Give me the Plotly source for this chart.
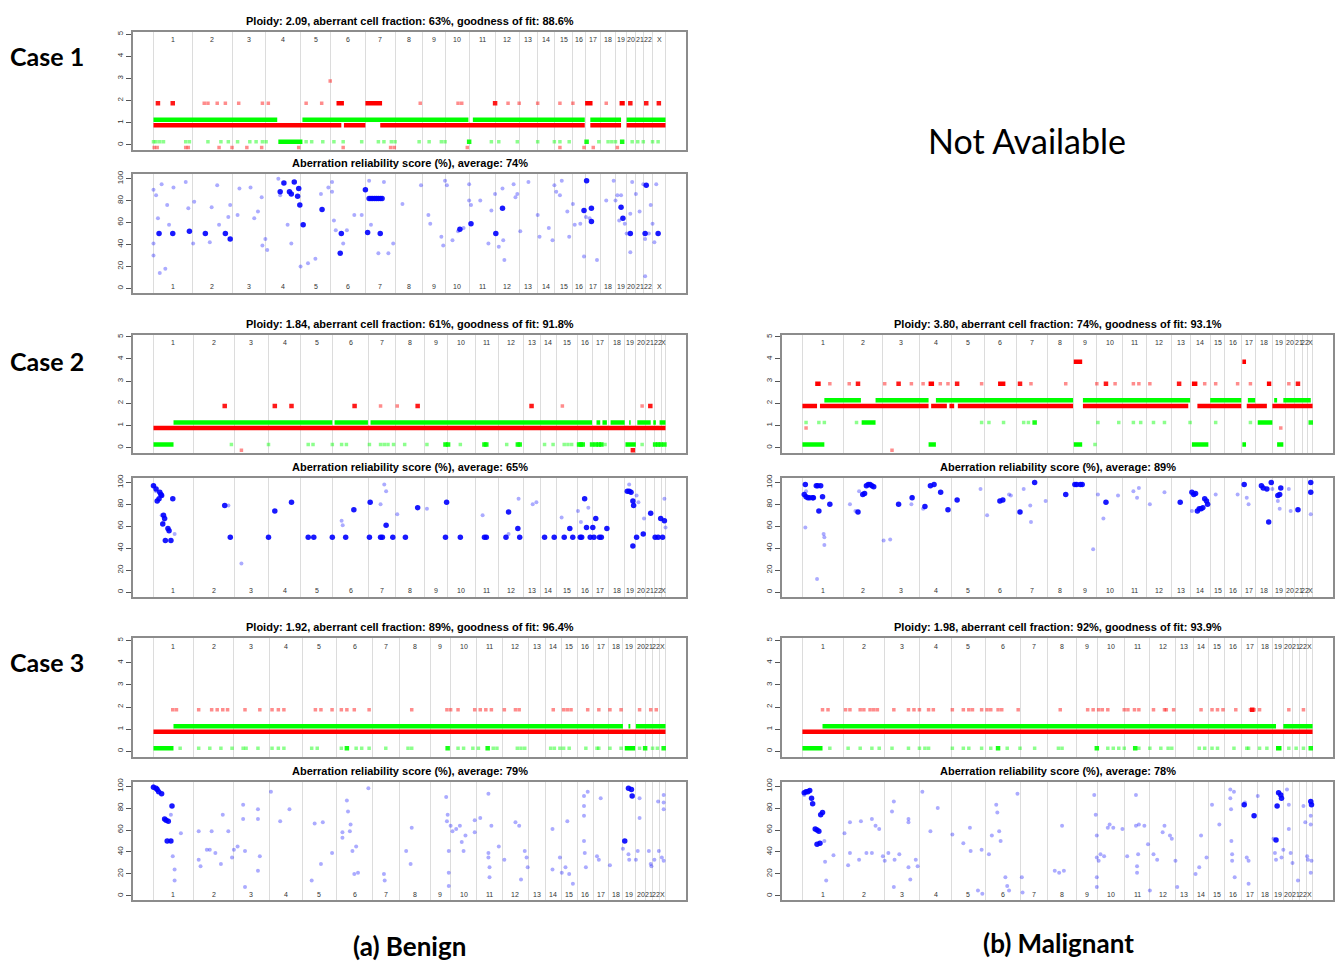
import plotly.graph_objects as go

W, H = 1335, 962
CHROMS = [str(i) for i in range(1, 23)] + ["X"]

# ---------------- chromosome start/end boundaries (bin coordinates) ----------------
B1 = [118, 222, 330, 420, 515, 597, 690, 770, 845, 905, 972, 1040, 1105, 1155, 1200, 1250, 1285, 1325, 1365, 1395, 1420, 1440, 1465, 1500]
B2B = [118, 225, 335, 428, 515, 600, 698, 770, 848, 910, 985, 1048, 1115, 1160, 1205, 1262, 1300, 1345, 1388, 1418, 1445, 1468, 1486, 1498]
B2M = [110, 222, 330, 430, 518, 608, 695, 780, 850, 915, 985, 1050, 1120, 1170, 1225, 1265, 1310, 1350, 1395, 1430, 1455, 1478, 1492, 1505]
B3B = [118, 225, 335, 430, 520, 612, 710, 782, 865, 920, 990, 1060, 1130, 1175, 1218, 1262, 1305, 1345, 1385, 1420, 1445, 1465, 1485, 1500]
B3M = [110, 222, 335, 430, 518, 610, 705, 780, 860, 918, 990, 1060, 1130, 1178, 1220, 1265, 1310, 1355, 1395, 1425, 1450, 1470, 1487, 1505]

# ---------------- titles ----------------
CN_TITLES = {
    "c1b": "Ploidy: 2.09, aberrant cell fraction: 63%, goodness of fit: 88.6%",
    "c2b": "Ploidy: 1.84, aberrant cell fraction: 61%, goodness of fit: 91.8%",
    "c2m": "Ploidy: 3.80, aberrant cell fraction: 74%, goodness of fit: 93.1%",
    "c3b": "Ploidy: 1.92, aberrant cell fraction: 89%, goodness of fit: 96.4%",
    "c3m": "Ploidy: 1.98, aberrant cell fraction: 92%, goodness of fit: 93.9%",
}
REL_AVG = {"c1b": 74, "c2b": 65, "c2m": 89, "c3b": 79, "c3m": 78}

# ================= CASE 1 (benign) =================
C1_RED_SEG = [(118, 625, 1), (632, 690, 1), (730, 1282, 1), (1297, 1380, 1), (1395, 1500, 1),
              (612, 632, 2), (690, 735, 2), (1283, 1303, 2), (1376, 1390, 2)]
C1_GREEN_SEG = [(118, 452, 1), (520, 968, 1), (980, 1282, 1), (1297, 1380, 1), (1395, 1500, 1), (455, 520, 0)]
C1_RED_FAINT = {2: [255, 265, 290, 312, 348, 412, 428, 530, 572, 838, 940, 950, 1075, 1105, 1155, 1215, 1250, 1340],
                3: [595],
                0: [120, 128, 205, 212, 295, 330, 370, 410, 510, 630, 758, 768, 965, 1215, 1280, 1305, 1370]}
C1_RED_STRONG = {2: [130, 170, 1040, 1405, 1448, 1482]}
C1_GREEN_FAINT = {0: [118, 125, 135, 145, 205, 215, 265, 300, 320, 345, 378, 395, 412, 422, 530, 545, 575, 605, 630,
                      680, 725, 740, 760, 770, 835, 862, 895, 905, 1030, 1050, 1100, 1155, 1200, 1215, 1240, 1320,
                      1345, 1355, 1365, 1410, 1425, 1440, 1465, 1480]}
C1_GREEN_STRONG = {0: [970, 1287, 1383]}
C1_REL_STRONG = [(133, 50), (170, 50), (215, 52), (258, 50), (312, 50), (325, 45), (460, 88), (470, 96), (485, 88),
                 (490, 86), (498, 97), (507, 84), (510, 91), (513, 76), (522, 58), (573, 72), (625, 50), (622, 32),
                 (690, 90), (696, 51), (700, 82), (705, 82), (710, 82), (715, 82), (720, 82), (725, 82), (730, 82),
                 (735, 82), (730, 50), (975, 59), (945, 54), (1042, 50), (1060, 73), (1287, 98), (1280, 71),
                 (1300, 73), (1300, 61), (1380, 74), (1385, 64), (1405, 50), (1445, 50), (1480, 50), (1448, 94)]
C1_REL_FAINT = [(118, 90), (118, 41), (118, 30), (125, 85), (130, 64), (135, 14), (140, 95), (150, 18), (155, 76),
                (160, 58), (172, 92), (205, 97), (212, 73), (225, 41), (228, 79), (270, 42), (275, 74), (290, 94),
                (295, 58), (320, 65), (325, 76), (345, 67), (350, 91), (380, 92), (390, 64), (400, 70), (410, 83),
                (412, 39), (420, 45), (425, 35), (455, 100), (460, 85), (480, 58), (490, 41), (515, 20), (535, 23),
                (555, 27), (570, 86), (590, 92), (600, 88), (600, 97), (605, 62), (610, 53), (630, 41), (640, 53),
                (660, 67), (680, 67), (700, 98), (705, 58), (725, 32), (740, 97), (752, 32), (765, 41), (790, 77),
                (840, 94), (860, 67), (865, 59), (895, 47), (900, 39), (905, 98), (910, 94), (925, 44), (940, 52),
                (955, 55), (970, 95), (970, 80), (975, 76), (1000, 80), (1022, 41), (1030, 71), (1040, 86),
                (1050, 38), (1060, 91), (1062, 44), (1065, 26), (1090, 95), (1095, 83), (1100, 86), (1108, 52),
                (1130, 97), (1155, 67), (1160, 47), (1185, 55), (1195, 44), (1200, 94), (1205, 88), (1215, 85),
                (1220, 98), (1235, 70), (1240, 47), (1250, 77), (1255, 58), (1270, 59), (1280, 29), (1285, 65),
                (1295, 64), (1315, 26), (1340, 80), (1360, 98), (1365, 80), (1370, 85), (1375, 62), (1380, 85),
                (1390, 59), (1395, 50), (1405, 68), (1405, 33), (1410, 97), (1420, 86), (1430, 70), (1440, 95),
                (1445, 45), (1445, 11), (1455, 50), (1460, 76), (1465, 59), (1470, 42), (1475, 95)]

# ================= CASE 2 (benign) =================
C2B_RED_SEG = [(118, 1498, 1)]
C2B_GREEN_SEG = [(172, 600, 1), (606, 696, 1), (703, 1300, 1), (1312, 1322, 1), (1328, 1340, 1), (1350, 1388, 1),
                 (1400, 1404, 1), (1422, 1458, 1), (1465, 1472, 1), (1482, 1498, 1), (118, 172, 0), (1390, 1418, 0)]
C2B_RED_FAINT = {2: [730, 775, 1220, 1435], 0: [355]}
C2B_RED_STRONG = {2: [310, 445, 490, 660, 830, 1137, 1457], 0: [1410]}
C2B_GREEN_FAINT = {0: [328, 428, 535, 548, 600, 625, 638, 700, 730, 740, 750, 765, 795, 855, 945, 1070, 1172, 1195,
                       1225, 1235, 1245, 1335, 1435]}
C2B_GREEN_STRONG = {0: [905, 912, 1010, 1015, 1100, 1105, 1265, 1270, 1275, 1300, 1310, 1318, 1325, 1470, 1478,
                        1485, 1495]}
C2B_REL_STRONG = [(118, 97), (125, 94), (135, 91), (138, 89), (128, 83), (133, 85), (140, 88), (170, 85), (145, 70),
                  (148, 67), (143, 62), (157, 58), (160, 56), (150, 47), (165, 47), (310, 79), (325, 50), (428, 50),
                  (445, 74), (490, 82), (535, 50), (550, 50), (600, 50), (636, 50), (658, 75), (700, 50), (702, 82),
                  (730, 50), (735, 50), (745, 61), (763, 50), (797, 50), (830, 77), (905, 50), (908, 82), (945, 50),
                  (1010, 50), (1015, 50), (1068, 50), (1075, 73), (1100, 58), (1105, 50), (1172, 50), (1198, 50),
                  (1225, 50), (1240, 58), (1248, 50), (1268, 50), (1272, 50), (1280, 85), (1285, 59), (1295, 50),
                  (1302, 59), (1305, 50), (1310, 67), (1320, 50), (1325, 50), (1340, 58), (1395, 92), (1400, 92),
                  (1405, 91), (1410, 42), (1410, 83), (1412, 79), (1420, 50), (1438, 53), (1458, 72), (1470, 50),
                  (1478, 50), (1485, 67), (1490, 50), (1495, 65)]
C2B_REL_FAINT = [(120, 97), (125, 92), (140, 70), (145, 64), (175, 53), (320, 79), (355, 26), (625, 65), (628, 61),
                 (730, 80), (740, 98), (745, 92), (775, 71), (855, 76), (1005, 70), (1075, 53), (1102, 85),
                 (1140, 80), (1150, 82), (1218, 68), (1262, 74), (1270, 64), (1290, 77), (1400, 98), (1420, 88),
                 (1425, 82), (1440, 67), (1495, 85), (1498, 59)]

# ================= CASE 2 (malignant) =================
C2M_RED_SEG = [(110, 150, 2), (158, 455, 2), (462, 505, 2), (512, 525, 2), (535, 850, 2), (877, 1165, 2),
               (1190, 1310, 2), (1325, 1380, 2), (1395, 1505, 2), (852, 875, 4), (1313, 1323, 4),
               (455, 470, 3), (645, 665, 3), (1175, 1190, 3), (1380, 1392, 3), (145, 160, 3)]
C2M_GREEN_SEG = [(170, 270, 2), (310, 455, 2), (475, 850, 2), (877, 1170, 2), (1225, 1310, 2), (1328, 1348, 2),
                 (1400, 1408, 2), (1425, 1500, 2), (272, 310, 1), (1355, 1395, 1),
                 (110, 170, 0), (455, 475, 0), (852, 875, 0), (1175, 1220, 0), (1313, 1323, 0), (1408, 1425, 0)]
C2M_RED_FAINT = {3: [185, 238, 335, 408, 440, 487, 508, 600, 735, 830, 915, 965, 1015, 1030, 1060, 1210, 1240, 1300,
                     1335, 1440],
                 1: [120, 1418], 0: [355]}
C2M_RED_STRONG = {3: [262, 373, 533, 705, 940, 1140, 1465]}
C2M_GREEN_FAINT = {1: [120, 155, 170, 258, 600, 620, 660, 715, 728, 918, 975, 1015, 1035, 1070, 1100, 1170, 1240,
                       1335],
                   0: [910]}
C2M_GREEN_STRONG = {1: [745, 1500]}
C2M_REL_STRONG = [(118, 98), (115, 89), (120, 87), (125, 86), (130, 86), (138, 86), (140, 86), (148, 97), (152, 97),
                  (160, 97), (165, 87), (155, 74), (185, 80), (262, 73), (275, 89), (280, 90), (285, 97), (290, 98),
                  (295, 98), (300, 97), (305, 96), (373, 80), (410, 86), (445, 78), (460, 97), (470, 98), (488, 91),
                  (508, 75), (533, 84), (650, 83), (658, 84), (705, 73), (745, 100), (830, 89), (855, 98), (860, 98),
                  (870, 98), (875, 98), (940, 82), (1143, 82), (1175, 91), (1180, 89), (1185, 90), (1190, 74),
                  (1195, 76), (1200, 76), (1205, 77), (1210, 85), (1215, 83), (1218, 80), (1318, 98), (1365, 97),
                  (1370, 95), (1380, 94), (1392, 100), (1385, 64), (1410, 88), (1415, 89), (1418, 95), (1465, 75),
                  (1500, 100), (1500, 91)]
C2M_REL_FAINT = [(118, 59), (120, 92), (150, 12), (170, 43), (168, 53), (170, 50), (240, 80), (255, 74), (265, 92),
                 (350, 48), (332, 47), (408, 80), (410, 87), (440, 76), (597, 94), (615, 70), (675, 89), (680, 88),
                 (715, 94), (733, 79), (735, 64), (775, 83), (905, 39), (918, 89), (933, 67), (973, 88), (1015, 92),
                 (1025, 86), (1030, 95), (1060, 80), (1100, 91), (1175, 74), (1240, 89), (1300, 89), (1325, 86),
                 (1330, 80), (1395, 94), (1410, 83), (1415, 76), (1440, 94), (1445, 74), (1500, 71)]

# ================= CASE 3 (benign) =================
C3B_RED_SEG = [(118, 1500, 1)]
C3B_GREEN_SEG = [(172, 1385, 1), (1400, 1405, 1), (1420, 1500, 1), (118, 172, 0), (1390, 1418, 0)]
C3B_RED_FAINT = {2: [170, 180, 240, 275, 290, 305, 318, 365, 405, 438, 455, 470, 555, 570, 600, 625, 640, 660, 700,
                     815, 910, 920, 940, 985, 1000, 1015, 1030, 1065, 1095, 1105, 1197, 1225, 1235, 1245, 1290,
                     1320, 1350, 1380, 1430, 1460, 1475]}
C3B_RED_STRONG = {}
C3B_GREEN_FAINT = {0: [190, 240, 270, 300, 330, 360, 368, 400, 438, 455, 470, 545, 560, 625, 665, 680, 700, 745,
                       805, 815, 940, 955, 980, 995, 1035, 1045, 1100, 1110, 1120, 1190, 1200, 1215, 1225, 1240,
                       1285, 1315, 1320, 1350, 1380, 1430, 1465, 1478]}
C3B_GREEN_STRONG = {0: [640, 912, 1020, 1445, 1495]}
C3B_REL_STRONG = [(118, 99), (125, 98), (128, 97), (132, 95), (140, 93), (168, 82), (148, 70), (152, 69), (158, 68),
                  (155, 50), (165, 50), (1390, 50), (1400, 98), (1408, 97), (1410, 91)]
C3B_REL_FAINT = [(118, 100), (165, 74), (170, 36), (175, 24), (175, 14), (192, 57), (240, 59), (240, 33), (245, 27),
                 (262, 42), (270, 42), (275, 59), (285, 39), (300, 29), (305, 74), (320, 59), (330, 35), (335, 42),
                 (345, 45), (360, 83), (360, 70), (365, 41), (365, 8), (400, 79), (400, 70), (400, 23), (405, 36),
                 (435, 95), (460, 68), (485, 79), (545, 14), (553, 66), (570, 29), (575, 67), (600, 39), (628, 58),
                 (628, 53), (640, 87), (643, 77), (648, 59), (650, 65), (655, 41), (660, 20), (665, 45), (670, 21),
                 (698, 98), (740, 20), (742, 14), (800, 41), (812, 29), (815, 62), (908, 90), (910, 68), (912, 74),
                 (915, 41), (915, 21), (915, 9), (920, 64), (925, 59), (935, 61), (945, 64), (950, 49), (955, 41),
                 (960, 55), (985, 69), (985, 58), (1000, 71), (1022, 93), (1022, 39), (1022, 35), (1025, 26),
                 (1025, 17), (1030, 64), (1050, 45), (1065, 33), (1095, 67), (1105, 64), (1110, 15), (1120, 41),
                 (1125, 35), (1128, 26), (1195, 61), (1195, 24), (1215, 35), (1220, 21), (1230, 26), (1235, 68),
                 (1240, 20), (1250, 11), (1280, 91), (1280, 82), (1280, 73), (1280, 50), (1282, 39), (1285, 26),
                 (1290, 95), (1315, 36), (1320, 33), (1325, 89), (1350, 28), (1385, 43), (1400, 38), (1402, 33),
                 (1420, 33), (1425, 41), (1430, 89), (1430, 71), (1455, 41), (1460, 29), (1462, 27), (1470, 33),
                 (1480, 86), (1482, 41), (1490, 35), (1495, 85), (1495, 79), (1495, 92), (1495, 32)]

# ================= CASE 3 (malignant) =================
C3M_RED_SEG = [(110, 1505, 1)]
C3M_GREEN_SEG = [(165, 1405, 1), (1425, 1505, 1), (110, 165, 0), (1405, 1420, 0)]
C3M_RED_FAINT = {2: [165, 180, 228, 240, 268, 278, 295, 305, 315, 360, 400, 415, 430, 455, 468, 520, 550, 565, 575,
                     600, 615, 625, 645, 655, 700, 815, 890, 905, 920, 930, 945, 990, 1000, 1018, 1030, 1070, 1100,
                     1105, 1125, 1200, 1230, 1245, 1260, 1295, 1335, 1345, 1360, 1440, 1480]}
C3M_RED_STRONG = {2: [1340]}
C3M_GREEN_FAINT = {0: [185, 235, 268, 300, 320, 355, 400, 430, 445, 455, 520, 550, 565, 600, 625, 670, 705, 745,
                       810, 820, 945, 960, 975, 990, 1030, 1060, 1090, 1110, 1120, 1195, 1210, 1230, 1245, 1290,
                       1325, 1330, 1360, 1380, 1440, 1460, 1480]}
C3M_GREEN_STRONG = {0: [645, 915, 1020, 1500]}
C3M_REL_STRONG = [(115, 94), (120, 95), (125, 95), (130, 96), (135, 89), (138, 84), (160, 74), (165, 76), (145, 61),
                  (150, 60), (155, 59), (150, 47), (158, 48), (1318, 83), (1345, 73), (1405, 51), (1408, 82),
                  (1412, 94), (1418, 92), (1420, 89), (1500, 86), (1502, 83)]
C3M_REL_FAINT = [(115, 92), (170, 50), (172, 31), (175, 14), (195, 37), (225, 57), (235, 28), (240, 67), (240, 39),
                 (265, 33), (270, 68), (285, 39), (300, 39), (300, 70), (310, 64), (320, 61), (330, 36), (335, 32),
                 (345, 39), (355, 77), (360, 86), (360, 8), (362, 33), (375, 38), (400, 70), (400, 67), (400, 26),
                 (405, 15), (420, 33), (425, 27), (438, 95), (460, 59), (480, 80), (520, 56), (550, 48), (568, 62),
                 (570, 41), (590, 5), (600, 42), (602, 2), (620, 38), (628, 55), (640, 83), (643, 76), (648, 59),
                 (652, 50), (665, 17), (670, 9), (675, 5), (698, 93), (710, 17), (712, 3), (800, 23), (812, 21),
                 (820, 64), (825, 23), (908, 92), (912, 74), (915, 55), (915, 35), (915, 17), (915, 8), (920, 32),
                 (925, 38), (935, 36), (945, 62), (950, 65), (960, 62), (985, 61), (998, 36), (1022, 92), (1022, 64),
                 (1025, 27), (1025, 21), (1028, 38), (1030, 65), (1045, 64), (1055, 47), (1060, 5), (1070, 38),
                 (1080, 33), (1095, 58), (1100, 64), (1115, 55), (1120, 52), (1130, 32), (1135, 8), (1185, 20),
                 (1195, 26), (1200, 55), (1215, 35), (1230, 83), (1250, 65), (1280, 97), (1280, 89), (1282, 79),
                 (1283, 50), (1285, 38), (1285, 32), (1290, 95), (1292, 17), (1320, 85), (1325, 35), (1330, 32),
                 (1330, 11), (1355, 91), (1398, 52), (1402, 39), (1405, 33), (1420, 35), (1425, 42), (1435, 97),
                 (1440, 83), (1440, 61), (1445, 39), (1450, 30), (1465, 14), (1480, 82), (1485, 67), (1490, 36),
                 (1492, 33), (1500, 73), (1500, 65), (1500, 21), (1502, 32)]

# ---------------- layout geometry (pixels) ----------------
BENIGN_X = (133, 686)
MALIG_X = (782, 1333)
CN_ROWS = [(28, 147), (332, 451), (637, 756)]
REL_ROWS = [(171, 290), (476, 595), (781, 900)]
RED_OFF, GREEN_OFF = -0.12, 0.135
RED, GREEN, BLUE = "#FF0000", "#00FF00", "#0000FF"
FRAME = "#8C8C8C"
GRID = "#DCDCDC"

PANELS = [
    dict(key="c1b", xs=BENIGN_X, row=0, b=B1, rs=C1_RED_SEG, gs=C1_GREEN_SEG, rf=C1_RED_FAINT, rst=C1_RED_STRONG,
         gf=C1_GREEN_FAINT, gst=C1_GREEN_STRONG, ls=C1_REL_STRONG, lf=C1_REL_FAINT),
    dict(key="c2b", xs=BENIGN_X, row=1, b=B2B, rs=C2B_RED_SEG, gs=C2B_GREEN_SEG, rf=C2B_RED_FAINT, rst=C2B_RED_STRONG,
         gf=C2B_GREEN_FAINT, gst=C2B_GREEN_STRONG, ls=C2B_REL_STRONG, lf=C2B_REL_FAINT),
    dict(key="c2m", xs=MALIG_X, row=1, b=B2M, rs=C2M_RED_SEG, gs=C2M_GREEN_SEG, rf=C2M_RED_FAINT, rst=C2M_RED_STRONG,
         gf=C2M_GREEN_FAINT, gst=C2M_GREEN_STRONG, ls=C2M_REL_STRONG, lf=C2M_REL_FAINT),
    dict(key="c3b", xs=BENIGN_X, row=2, b=B3B, rs=C3B_RED_SEG, gs=C3B_GREEN_SEG, rf=C3B_RED_FAINT, rst=C3B_RED_STRONG,
         gf=C3B_GREEN_FAINT, gst=C3B_GREEN_STRONG, ls=C3B_REL_STRONG, lf=C3B_REL_FAINT),
    dict(key="c3m", xs=MALIG_X, row=2, b=B3M, rs=C3M_RED_SEG, gs=C3M_GREEN_SEG, rf=C3M_RED_FAINT, rst=C3M_RED_STRONG,
         gf=C3M_GREEN_FAINT, gst=C3M_GREEN_STRONG, ls=C3M_REL_STRONG, lf=C3M_REL_FAINT),
]


def fx(x):
    return x / W


def fy(y):
    return 1 - y / H


fig = go.Figure()
layout = dict(width=W, height=H, margin=dict(l=0, r=0, t=0, b=0), paper_bgcolor="white",
              plot_bgcolor="white", showlegend=False, annotations=[])
TICKFONT = dict(family="Liberation Sans, Arial", size=8, color="#333333")
CHRFONT = dict(family="Liberation Sans, Arial", size=7, color="#333333")
TITLEFONT = dict(family="Liberation Sans, Arial", size=11, color="black")

ax = 0


def make_axes(xs, ys, bounds, kind):
    global ax
    ax += 1
    n = "" if ax == 1 else str(ax)
    span = bounds[-1] - bounds[0]
    xa = dict(domain=[fx(xs[0]), fx(xs[1])], anchor="y" + n,
              range=[bounds[0] - 0.04 * span, bounds[-1] + 0.04 * span],
              tickmode="array", tickvals=bounds, showticklabels=False, ticks="",
              showgrid=True, gridcolor=GRID, gridwidth=1, zeroline=False,
              showline=True, mirror=True, linecolor=FRAME, linewidth=1.5, fixedrange=True)
    if kind == "cn":
        yr, yt = [-0.25, 5.1], [0, 1, 2, 3, 4, 5]
    else:
        yr, yt = [-4, 104], [0, 20, 40, 60, 80, 100]
    ya = dict(domain=[fy(ys[1]), fy(ys[0])], anchor="x" + n, range=yr, tickmode="array", tickvals=yt,
              tickangle=-90, ticks="outside", ticklen=5, tickcolor="#555555", tickfont=TICKFONT,
              showgrid=False, zeroline=False, showline=True, mirror=True, linecolor=FRAME, linewidth=1.5,
              fixedrange=True)
    layout["xaxis" + n] = xa
    layout["yaxis" + n] = ya
    # chromosome names inside the frame
    ylab = 0.933 if kind == "cn" else 0.05
    for i, name in enumerate(CHROMS):
        c = (bounds[i] + bounds[i + 1]) / 2
        layout["annotations"].append(dict(x=c, y=ylab, xref="x" + n, yref="y" + n + " domain", text=name,
                                          showarrow=False, font=CHRFONT, xanchor="center", yanchor="middle"))
    return "x" + n, "y" + n


def seg_trace(segs, off, color, xr, yr):
    xs, ys = [], []
    for s, e, lv in segs:
        xs += [s, e, None]
        ys += [lv + off, lv + off, None]
    return go.Scatter(x=xs, y=ys, mode="lines", line=dict(color=color, width=4.5), xaxis=xr, yaxis=yr,
                      hoverinfo="skip")


def dot_trace(d, off, color, size, opacity, xr, yr):
    xs, ys = [], []
    for lv, pos in d.items():
        xs += pos
        ys += [lv + off] * len(pos)
    return go.Scatter(x=xs, y=ys, mode="markers", marker=dict(symbol="square", size=size, color=color,
                      opacity=opacity, line=dict(width=0)), xaxis=xr, yaxis=yr, hoverinfo="skip")


for p in PANELS:
    cy = CN_ROWS[p["row"]]
    ry = REL_ROWS[p["row"]]
    xr, yr = make_axes(p["xs"], cy, p["b"], "cn")
    fig.add_trace(dot_trace(p["rf"], RED_OFF, RED, 3.5, 0.45, xr, yr))
    fig.add_trace(dot_trace(p["gf"], GREEN_OFF, GREEN, 3.5, 0.45, xr, yr))
    fig.add_trace(seg_trace(p["gs"], GREEN_OFF, GREEN, xr, yr))
    fig.add_trace(seg_trace(p["rs"], RED_OFF, RED, xr, yr))
    fig.add_trace(dot_trace(p["rst"], RED_OFF, RED, 4.5, 0.9, xr, yr))
    fig.add_trace(dot_trace(p["gst"], GREEN_OFF, GREEN, 4.5, 0.9, xr, yr))
    xc = (p["xs"][0] + p["xs"][1]) / 2
    layout["annotations"].append(dict(x=fx(xc), y=fy(cy[0] - 11), xref="paper", yref="paper",
                                      text="<b>" + CN_TITLES[p["key"]] + "</b>", showarrow=False,
                                      font=TITLEFONT, xanchor="center", yanchor="middle"))
    xr2, yr2 = make_axes(p["xs"], ry, p["b"], "rel")
    lf, ls = p["lf"], p["ls"]
    fig.add_trace(go.Scatter(x=[a for a, _ in lf], y=[b for _, b in lf], mode="markers",
                             marker=dict(size=4, color="rgba(0,0,255,0.33)", line=dict(width=0)),
                             xaxis=xr2, yaxis=yr2, hoverinfo="skip"))
    fig.add_trace(go.Scatter(x=[a for a, _ in ls], y=[b for _, b in ls], mode="markers",
                             marker=dict(size=5.5, color="rgba(0,0,255,0.9)", line=dict(width=0)),
                             xaxis=xr2, yaxis=yr2, hoverinfo="skip"))
    rel_title = "<b>Aberration reliability score (%), average: {}%</b>".format(REL_AVG[p["key"]])
    layout["annotations"].append(dict(x=fx(xc), y=fy(ry[0] - 11), xref="paper", yref="paper",
                                      text=rel_title, showarrow=False, font=TITLEFONT,
                                      xanchor="center", yanchor="middle"))

BIG = "Lato, Liberation Sans, Arial"
for txt, x, y in [("Case 1", 47, 52), ("Case 2", 47, 358), ("Case 3", 47, 661)]:
    layout["annotations"].append(dict(x=fx(x), y=fy(y), xref="paper", yref="paper", text="<b>" + txt + "</b>",
                                      showarrow=False, font=dict(family=BIG, size=25, color="black"),
                                      xanchor="center", yanchor="middle"))
layout["annotations"].append(dict(x=fx(1027), y=fy(137), xref="paper", yref="paper", text="Not Available",
                                  showarrow=False, font=dict(family=BIG, size=34, color="black"),
                                  xanchor="center", yanchor="middle"))
for txt, x, y in [("(a) Benign", 410, 946), ("(b) Malignant", 1058, 943)]:
    layout["annotations"].append(dict(x=fx(x), y=fy(y), xref="paper", yref="paper", text="<b>" + txt + "</b>",
                                      showarrow=False, font=dict(family=BIG, size=26, color="black"),
                                      xanchor="center", yanchor="middle"))

fig.update_layout(**layout)
fig.write_html("out.html")
